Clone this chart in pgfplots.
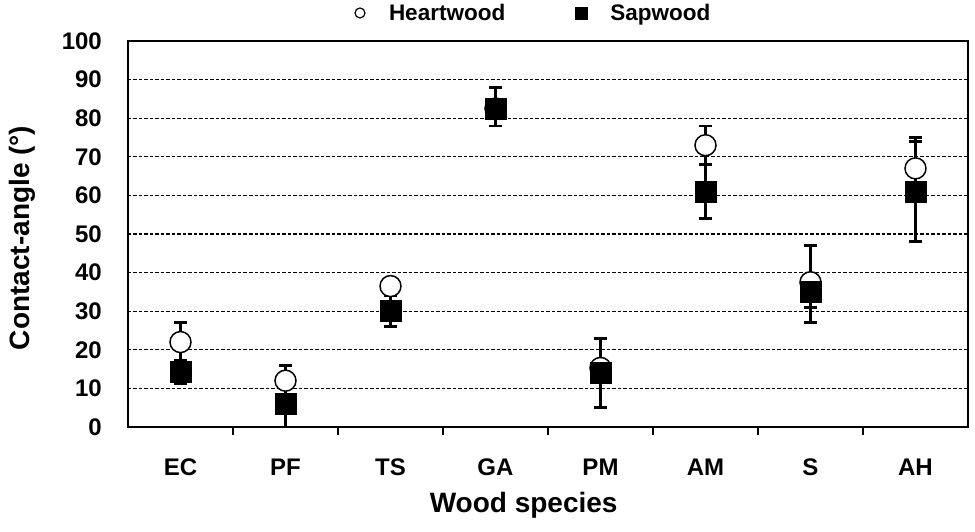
\documentclass[border=0pt]{standalone}
\usepackage{pgfplots}
\pgfplotsset{compat=1.18}
\usepackage{pgfplotstable}
\usepackage{fontspec}
\setmainfont{Liberation Sans}

\pgfplotstableread{
x y ep em
0 22   5   5
1 12   4   4
2 36.5 1   1
3 82.5 2   2
4 15.3 1   1
5 73   5   5
6 37.5 2   6.5
7 67   8   8
}\heart

\pgfplotstableread{
x y ep em
0 14.3 3   3
1 6    6   6
2 30   4   4
3 82.5 5.5 4.5
4 14   9   9
5 61   7   7
6 35   12  8
7 61   13  13
}\sap

\begin{document}
\begin{tikzpicture}
\begin{axis}[
  scale only axis,
  width=840pt, height=386pt,
  xmin=-0.5, xmax=7.5,
  ymin=0, ymax=100,
  ytick={0,10,...,100},
  xtick={0,...,7},
  xticklabels={EC,PF,TS,GA,PM,AM,S,AH},
  minor xtick={0.5,1.5,...,6.5},
  major tick length=0pt,
  minor tick length=8pt,
  tick pos=left,
  tick align=outside,
  tick style={black, line width=1.5pt},
  axis line style={black, line width=1.8pt},
  ymajorgrids,
  major grid style={black, line width=1.2pt, dash pattern=on 3.5pt off 2pt},
  /pgf/number format/assume math mode=true,
  tick label style={font=\fontsize{24}{26}\selectfont\bfseries},
  yticklabel style={anchor=east, inner sep=0pt, xshift=-26pt},
  xticklabel style={anchor=base, inner sep=0pt, yshift=-49pt},
  xlabel={Wood species},
  ylabel={Contact-angle (°)},
  every axis x label/.style={at={([yshift=-86pt]axis description cs:0.471,0)}, anchor=base, font=\fontsize{28}{32}\selectfont\bfseries},
  every axis y label/.style={at={([xshift=-106pt]axis description cs:0,0.49)}, anchor=center, rotate=90, font=\fontsize{28}{32}\selectfont\bfseries},
  clip=false,
  legend image code/.code={\path[draw=none, fill=none] (-6pt,-6pt) rectangle (27pt,6pt); \draw[#1] plot coordinates {(0pt,0pt)};},
  legend style={at={([xshift=226pt,yshift=28pt]axis description cs:0,1)}, anchor=west, draw=none, fill=none, inner sep=0pt, outer sep=0pt,
    legend columns=2, font=\fontsize{22.5}{25}\selectfont\bfseries,
    /tikz/every even column/.append style={column sep=68pt}},
]
% error bars first
\addplot[only marks, mark=none, forget plot,
  error bars/.cd, y dir=both, y explicit,
  error bar style={black, line width=2.2pt},
  error mark options={black, line width=2.6pt, mark size=6.5pt, rotate=90}]
  table[x=x, y=y, y error plus=ep, y error minus=em] {\sap};
\addplot[only marks, mark=none, forget plot,
  error bars/.cd, y dir=both, y explicit,
  error bar style={black, line width=2.2pt},
  error mark options={black, line width=2.6pt, mark size=6.5pt, rotate=90}]
  table[x=x, y=y, y error plus=ep, y error minus=em] {\heart};
% markers
\addplot[only marks, mark=*, mark size=10.5pt, mark options={draw=black, fill=white, line width=1.5pt}, forget plot]
  table[x=x, y=y] {\heart};
\addplot[only marks, mark=square*, mark size=10.5pt, mark options={draw=black, fill=black, line width=0.5pt}, forget plot]
  table[x=x, y=y] {\sap};
% legend
\addlegendimage{only marks, mark=*, mark size=5pt, mark options={draw=black, fill=white, line width=1.2pt}}
\addlegendentry{Heartwood}
\addlegendimage{only marks, mark=square*, mark size=6pt, mark options={draw=black, fill=black}}
\addlegendentry{Sapwood}
\coordinate (o) at (rel axis cs:0,0);
\end{axis}
\pgfresetboundingbox
\path (o) ++(-128pt,-105pt) rectangle ++(975pt,532pt);
\end{tikzpicture}
\end{document}
